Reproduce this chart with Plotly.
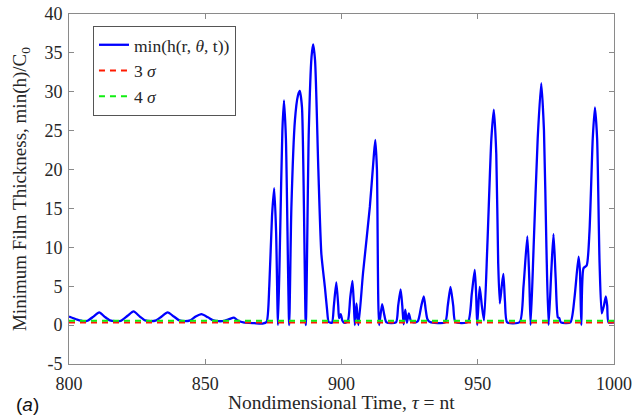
import plotly.graph_objects as go

# Nondimensional time and minimum film thickness
tau = [800, 803, 805.5, 807, 809, 811.1, 813, 815, 817, 819, 821.5, 823.7, 826, 828, 830, 832, 834,
       836.2, 838.5, 840.5, 842.5, 844.5, 846.5, 848.6, 851, 853, 855, 857, 859, 860.5, 862, 864,
       868, 871, 872.5, 873.5, 874.5, 875.3, 876, 876.7, 877.5, 878.3, 878.9, 879.6, 880.8, 881.6,
       882.9, 884.0, 884.7, 885.5, 886.9, 888, 889.0, 889.6, 890.3, 891.5, 892.6, 893.9, 894.7,
       895.3, 896.5, 897.2, 898.1, 898.8, 899.1, 899.7, 900.3, 901, 902.3, 903.2, 904.0, 904.5,
       904.9, 905.5, 906.2, 907.9, 910.4, 911.8, 912.4, 913.0, 913.8, 914.9, 915.6, 916.5, 920,
       920.8, 921.7, 922.3, 922.8, 923.4, 924.0, 924.7, 925.5, 926.5, 928, 929.3, 930.2, 930.9,
       931.5, 932.5, 938, 939.0, 940.0, 941.0, 941.8, 946.4, 947.8, 948.9, 949.4, 949.8, 950.7,
       951.5, 952.3, 953.5, 955.0, 955.9, 956.8, 957.5, 958.1, 958.8, 959.4, 960.0, 960.8, 965.4,
       966.8, 968.2, 968.9, 969.4, 970.5, 972.0, 973.3, 974.3, 975.2, 976.0, 977.0, 977.8, 978.6,
       979.4, 979.9, 980.5, 984, 985.5, 987.0, 987.5, 988.0, 988.8, 990.0, 991.0, 992.2, 993.0,
       993.8, 994.7, 995.5, 996.3, 997.0, 997.5, 998.0, 1000]
h_min = [1.1, 0.7, 0.5, 0.6, 1.1, 1.63, 1.1, 0.6, 0.5, 0.55, 1.2, 1.76, 1.1, 0.6, 0.5, 0.6, 1.1,
         1.63, 1.1, 0.6, 0.5, 0.6, 1.1, 1.41, 1.0, 0.6, 0.5, 0.55, 0.8, 0.95, 0.6, 0.35,
         0.25, 0.2, 0.4, 5, 14, 17.6, 12, 0.0, 12, 25, 28.9, 24, 0.0, 15,
         26.3, 29.5, 30.1, 28, 0.0, 25, 34.5, 36.1, 34, 20, 9.2, 4.9, 2,
         0.4, 0.3, 2.5, 5.5, 2.5, 0.9, 1.4, 0.6, 0.3, 0.5, 3.5, 5.7, 3,
         0.0, 2.8, 0.0, 6.7, 15.2, 21.5, 23.8, 20, 0.0, 2.7, 1.5, 0.35, 0.35,
         2.5, 4.6, 2.5, 0.1, 2.0, 0.3, 1.5, 0.5, 0.35, 0.5, 2.5, 3.7, 2.0,
         0.8, 0.4, 0.35, 2.5, 4.9, 2.5, 0.4, 0.4, 4.0, 7.1, 4, 0.0, 4.9,
         2.5, 0.6, 10, 24, 27.7, 22, 8, 2.8, 5, 6.6, 3, 0.35, 0.4,
         5, 11.4, 6, 0.0, 10, 24, 31.1, 25, 10, 0.0, 7, 11.7, 6,
         1.0, 0.9, 0.35, 0.35, 3.5, 8.8, 7, 0.0, 7.3, 7.7, 12, 24, 28.0,
         24, 8, 1.5, 2.5, 3.7, 2.5, 0.35, 0.35]

sigma3 = 0.35
sigma4 = 0.55
x_range = [800, 1000]
y_range = [-5, 40]
x_ticks = [800, 850, 900, 950, 1000]
y_ticks = [-5, 0, 5, 10, 15, 20, 25, 30, 35, 40]
y_tick_labels = ["-5", "0", "5", "10", "15", "20", "25", "30", "35", "40"]

axis_color = "#8a8a8a"
text_color = "#262626"
serif = "Liberation Serif, Times New Roman, serif"

fig = go.Figure()
fig.add_trace(go.Scatter(x=tau, y=h_min, mode="lines", name="min(h(r, <i>θ</i>, t))",
                         line=dict(color="#0000ff", width=2.3, shape="spline", smoothing=0.6)))
fig.add_trace(go.Scatter(x=x_range, y=[sigma3, sigma3], mode="lines", name="3 <i>σ</i>",
                         line=dict(color="#ff1a00", width=2, dash="6px,5px")))
fig.add_trace(go.Scatter(x=x_range, y=[sigma4, sigma4], mode="lines", name="4 <i>σ</i>",
                         line=dict(color="#11ee11", width=2, dash="6px,5px")))

axis_common = dict(showgrid=False, zeroline=False, showline=True, linecolor=axis_color,
                   linewidth=1, mirror="ticks", ticks="inside", ticklen=5, tickcolor=axis_color,
                   automargin=False,
                   tickfont=dict(family=serif, size=18, color=text_color))
fig.update_xaxes(range=x_range, tickmode="array", tickvals=x_ticks,
                 ticktext=[str(v) for v in x_ticks], ticklabelstandoff=3, **axis_common)
fig.update_yaxes(range=y_range, tickmode="array", tickvals=y_ticks, ticktext=y_tick_labels,
                 ticklabelstandoff=2, **axis_common)

fig.update_layout(
    width=639, height=419,
    margin=dict(l=69, r=25, t=14, b=55),
    plot_bgcolor="white", paper_bgcolor="white",
    showlegend=True,
    legend=dict(x=0.044, y=0.966, xanchor="left", yanchor="top",
                bgcolor="white", bordercolor="#555555", borderwidth=1,
                font=dict(family=serif, size=17.5, color=text_color),
                itemwidth=30, tracegroupgap=0, entrywidth=160, entrywidthmode="pixels"),
    annotations=[
        dict(text="Nondimensional Time, <i>τ</i> = nt", xref="paper", yref="paper",
             x=0.5, y=-0.075, xanchor="center", yanchor="top", showarrow=False,
             font=dict(family=serif, size=19.5, color=text_color)),
        dict(text="Minimum Film Thickness, min(h)/C<sub>0</sub>", xref="paper", yref="paper",
             x=-0.088, y=0.5, xanchor="center", yanchor="middle", textangle=-90,
             showarrow=False, font=dict(family=serif, size=19, color=text_color)),
        dict(text="(<i>a</i>)", xref="paper", yref="paper", x=-0.077, y=-0.08,
             xanchor="center", yanchor="top", showarrow=False,
             font=dict(family="Liberation Sans, Arial, sans-serif", size=19, color="#111111")),
    ],
)

fig.write_html("out.html")
